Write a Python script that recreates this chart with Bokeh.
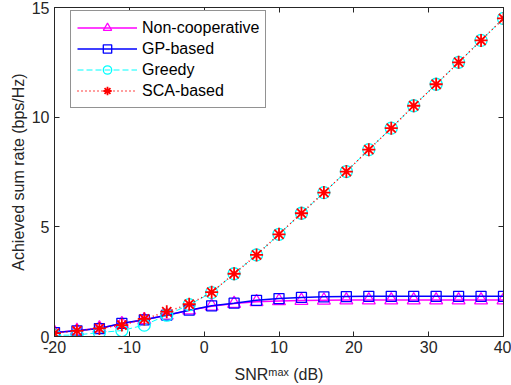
from bokeh.plotting import figure
from bokeh.models import (FixedTicker, LinearAxis, Legend, LegendItem, Range1d)
from bokeh.embed import file_html
from bokeh.resources import INLINE

snr = [-20, -17, -14, -11, -8, -5, -2, 1, 4, 7, 10, 13, 16, 19, 22, 25, 28, 31, 34, 37, 40]
noncoop = [0.18, 0.27, 0.38, 0.58, 0.76, 0.97, 1.20, 1.38, 1.50, 1.58, 1.62, 1.64, 1.65,
           1.66, 1.66, 1.66, 1.66, 1.66, 1.66, 1.66, 1.66]
gp = [0.18, 0.26, 0.36, 0.60, 0.76, 0.97, 1.20, 1.40, 1.52, 1.65, 1.73, 1.78, 1.81,
      1.82, 1.83, 1.83, 1.83, 1.83, 1.83, 1.83, 1.83]
greedy = [0.05, 0.07, 0.18, 0.27, 0.52, 0.97, 1.45, 2.00, 2.86, 3.72, 4.66, 5.62, 6.56,
          7.52, 8.52, 9.50, 10.52, 11.50, 12.50, 13.50, 14.50]
sca = [0.15, 0.26, 0.37, 0.52, 0.80, 1.13, 1.47, 2.02, 2.86, 3.72, 4.66, 5.62, 6.56,
       7.52, 8.52, 9.50, 10.52, 11.50, 12.50, 13.50, 14.50]

x_ticks = [-20, -10, 0, 10, 20, 30, 40]
x_tick_labels = ["-20", "-10", "0", "10", "20", "30", "40"]
y_ticks = [0, 5, 10, 15]
y_tick_labels = ["0", "5", "10", "15"]
labels = ["Non-cooperative", "GP-based", "Greedy", "SCA-based"]
x_title = "SNR\u1d50\u1d43\u02e3 (dB)"
y_title = "Achieved sum rate (bps/Hz)"

TXT = "#262626"
FONT = "Liberation Sans"

p = figure(width=511, height=385, output_backend="svg", toolbar_location=None,
           x_range=Range1d(-20, 40), y_range=Range1d(0, 15),
           min_border_left=54, min_border_right=8, min_border_top=7, min_border_bottom=49,
           x_axis_type=None, y_axis_type=None)
p.outline_line_color = TXT
p.outline_line_width = 1
p.background_fill_color = "white"
p.border_fill_color = "white"

def make_axis(ticks, tick_labels, show_labels):
    ax = LinearAxis(ticker=FixedTicker(ticks=ticks))
    if show_labels:
        ax.major_label_overrides = {t: l for t, l in zip(ticks, tick_labels)}
    else:
        ax.major_label_overrides = {t: "" for t in ticks}
    ax.major_tick_in = 5
    ax.major_tick_out = 0
    ax.minor_tick_in = 0
    ax.minor_tick_out = 0
    ax.axis_line_color = TXT
    ax.major_tick_line_color = TXT
    ax.major_label_text_color = TXT
    ax.major_label_text_font = FONT
    ax.major_label_text_font_size = "16px"
    return ax

xb = make_axis(x_ticks, x_tick_labels, True)
xb.major_label_standoff = 4
xb.axis_label = x_title
xb.axis_label_text_font = FONT
xb.axis_label_text_font_size = "16px"
xb.axis_label_text_font_style = "normal"
xb.axis_label_text_color = TXT
xb.axis_label_standoff = 10
p.add_layout(xb, "below")

yl = make_axis(y_ticks, y_tick_labels, True)
yl.major_label_standoff = 5
yl.axis_label = y_title
yl.axis_label_text_font = FONT
yl.axis_label_text_font_size = "16px"
yl.axis_label_text_font_style = "normal"
yl.axis_label_text_color = TXT
yl.axis_label_standoff = 2
p.add_layout(yl, "left")
p.add_layout(make_axis(x_ticks, x_tick_labels, False), "above")
p.add_layout(make_axis(y_ticks, y_tick_labels, False), "right")

p.xgrid.ticker = FixedTicker(ticks=x_ticks)
p.ygrid.ticker = FixedTicker(ticks=y_ticks)
p.grid.grid_line_color = "#e3e3e3"
p.grid.grid_line_width = 1

r1l = p.line(snr, noncoop, line_color="#ff00ff", line_width=1.5)
r1s = p.scatter(snr, noncoop, marker="triangle", size=13, line_color="#ff00ff",
                fill_color=None, line_width=1.2)
r2l = p.line(snr, gp, line_color="#0000ff", line_width=1.5)
r2s = p.scatter(snr, gp, marker="square", size=10, line_color="#0000ff",
                fill_color=None, line_width=1.3)
r3l = p.line(snr, greedy, line_color="#00ffff", line_width=1, line_dash="6 3")
r3s = p.scatter(snr, greedy, marker="circle", size=12, line_color="#00ffff",
                fill_color=None, line_width=1.3)
r4l = p.line(snr, sca, line_color="#ff0000", line_width=1.5, line_dash="1 3")
r4s = p.scatter(snr, sca, marker="asterisk", size=13, line_color="#ff0000",
                line_width=1.8)

legend = Legend(items=[
    LegendItem(label=labels[0], renderers=[r1l, r1s]),
    LegendItem(label=labels[1], renderers=[r2l, r2s]),
    LegendItem(label=labels[2], renderers=[r3l, r3s]),
    LegendItem(label=labels[3], renderers=[r4l, r4s]),
], location=(16, 228))
legend.glyph_width = 60
legend.glyph_height = 21
legend.label_height = 21
legend.spacing = 0
legend.padding = 6
legend.margin = 0
legend.label_standoff = 5
legend.label_text_font = FONT
legend.label_text_font_size = "16px"
legend.label_text_color = "black"
legend.border_line_color = TXT
legend.border_line_width = 1
legend.background_fill_color = "white"
legend.background_fill_alpha = 1
p.add_layout(legend, "center")

open("out.html", "w").write(file_html(p, INLINE))
